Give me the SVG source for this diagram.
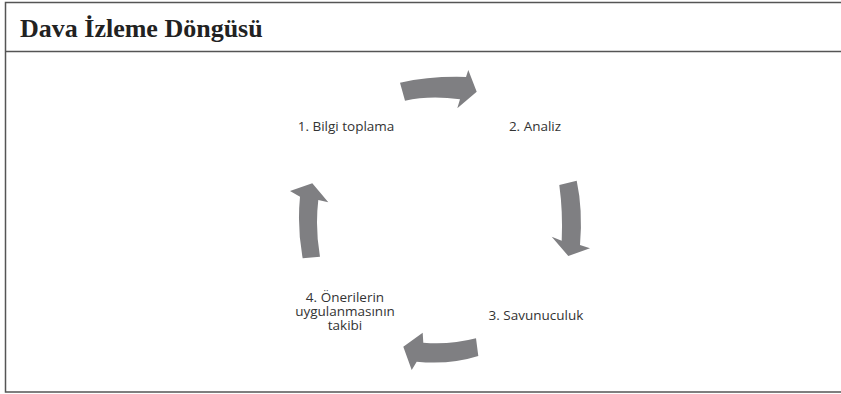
<svg xmlns="http://www.w3.org/2000/svg" width="841" height="394" viewBox="0 0 841 394">
<style>
.frame{fill:none;stroke:#555;stroke-width:1.5}
.title{font-family:"Liberation Serif",serif;font-weight:bold;font-size:26px;fill:#222}
.lbl{font-family:"Open Sans","Liberation Sans",sans-serif;font-size:13.5px;fill:#333}
.arr{fill:#7f7f82}
</style>
<rect width="841" height="394" fill="#fff"/>
<g id="frame">
<path class="frame" d="M841 2.5 H5.5 V392 H841"/>
<line class="frame" x1="5.5" y1="51.5" x2="841" y2="51.5"/>
<text class="title" x="20" y="37">Dava İzleme Döngüsü</text>
</g>
<g id="connectors">
<path class="arr" d="M400 82.7 Q430 76 466 77 L468.3 70 L476.7 91.7 L457.3 108.3 L460 99.3 Q430 95 405 100.7 Z"/>
<path class="arr" d="M559.3 185 Q563 212 561.7 240.7 L551.7 236.7 L568.3 256 L590 248.3 L580 245 Q583 210 576.7 180.7 Z"/>
<path class="arr" d="M476 338.3 Q450 345 423.3 342.7 L422.7 332.7 L403.3 346.7 L411.7 370 L416.7 361.7 Q450 365 478.3 356 Z"/>
<path class="arr" d="M302.7 258.3 Q297 228 300 196.7 L290 191 L312.3 183.3 L328.3 202.3 L318.3 200 Q315 228 320 256.7 Z"/>
</g>
<g id="node1"><text class="lbl" x="346" y="131" text-anchor="middle">1. Bilgi toplama</text></g>
<g id="node2"><text class="lbl" x="535" y="131" text-anchor="middle">2. Analiz</text></g>
<g id="node3"><text class="lbl" x="536" y="320" text-anchor="middle">3. Savunuculuk</text></g>
<g id="node4"><text class="lbl" text-anchor="middle"><tspan x="345" y="302">4. Önerilerin</tspan><tspan x="345" y="316">uygulanmasının</tspan><tspan x="345" y="330">takibi</tspan></text></g>
</svg>
